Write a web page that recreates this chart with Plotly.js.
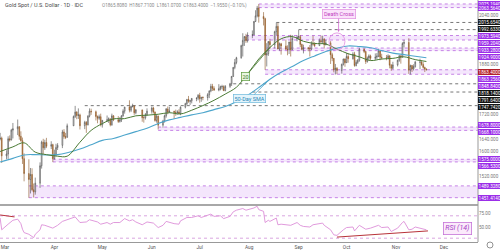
<!DOCTYPE html>
<html><head><meta charset="utf-8">
<script src="https://cdn.plot.ly/plotly-3.0.1.min.js"></script>
<style>html,body{margin:0;padding:0;background:#fff}#chart{width:500px;height:250px}</style>
</head><body><div id="chart"></div>
<script>
// ---- daily candles (XAU/USD) ----
const dates = [
'2020-02-27','2020-02-28',
'2020-03-02','2020-03-03','2020-03-04','2020-03-05','2020-03-06','2020-03-09','2020-03-10','2020-03-11','2020-03-12','2020-03-13','2020-03-16','2020-03-17','2020-03-18','2020-03-19','2020-03-20','2020-03-23','2020-03-24','2020-03-25','2020-03-26','2020-03-27','2020-03-30','2020-03-31',
'2020-04-01','2020-04-02','2020-04-03','2020-04-06','2020-04-07','2020-04-08','2020-04-09','2020-04-13','2020-04-14','2020-04-15','2020-04-16','2020-04-17','2020-04-20','2020-04-21','2020-04-22','2020-04-23','2020-04-24','2020-04-27','2020-04-28','2020-04-29','2020-04-30',
'2020-05-01','2020-05-04','2020-05-05','2020-05-06','2020-05-07','2020-05-08','2020-05-11','2020-05-12','2020-05-13','2020-05-14','2020-05-15','2020-05-18','2020-05-19','2020-05-20','2020-05-21','2020-05-22','2020-05-26','2020-05-27','2020-05-28','2020-05-29',
'2020-06-01','2020-06-02','2020-06-03','2020-06-04','2020-06-05','2020-06-08','2020-06-09','2020-06-10','2020-06-11','2020-06-12','2020-06-15','2020-06-16','2020-06-17','2020-06-18','2020-06-19','2020-06-22','2020-06-23','2020-06-24','2020-06-25','2020-06-26','2020-06-29','2020-06-30',
'2020-07-01','2020-07-02','2020-07-03','2020-07-06','2020-07-07','2020-07-08','2020-07-09','2020-07-10','2020-07-13','2020-07-14','2020-07-15','2020-07-16','2020-07-17','2020-07-20','2020-07-21','2020-07-22','2020-07-23','2020-07-24','2020-07-27','2020-07-28','2020-07-29','2020-07-30','2020-07-31',
'2020-08-03','2020-08-04','2020-08-05','2020-08-06','2020-08-07','2020-08-10','2020-08-11','2020-08-12','2020-08-13','2020-08-14','2020-08-17','2020-08-18','2020-08-19','2020-08-20','2020-08-21','2020-08-24','2020-08-25','2020-08-26','2020-08-27','2020-08-28','2020-08-31',
'2020-09-01','2020-09-02','2020-09-03','2020-09-04','2020-09-07','2020-09-08','2020-09-09','2020-09-10','2020-09-11','2020-09-14','2020-09-15','2020-09-16','2020-09-17','2020-09-18','2020-09-21','2020-09-22','2020-09-23','2020-09-24','2020-09-25','2020-09-28','2020-09-29','2020-09-30',
'2020-10-01','2020-10-02','2020-10-05','2020-10-06','2020-10-07','2020-10-08','2020-10-09','2020-10-12','2020-10-13','2020-10-14','2020-10-15','2020-10-16','2020-10-19','2020-10-20','2020-10-21','2020-10-22','2020-10-23','2020-10-26','2020-10-27','2020-10-28','2020-10-29','2020-10-30',
'2020-11-02','2020-11-03','2020-11-04','2020-11-05','2020-11-06','2020-11-09','2020-11-10','2020-11-11','2020-11-12','2020-11-13','2020-11-16','2020-11-17','2020-11-18','2020-11-19','2020-11-20'];
const open = [1641,1643,
1586,1592,1641,1637,1669,1673,1680,1649,1635,1577,1529,1510,1526,1477,1470,1498,1554,1630,1612,1629,1617,1622,
1577,1591,1613,1620,1663,1648,1646,1683,1713,1727,1716,1718,1683,1694,1686,1714,1730,1728,1713,1707,1712,
1686,1700,1702,1705,1686,1715,1702,1697,1702,1715,1730,1743,1733,1745,1747,1725,1734,1709,1709,1719,
1730,1740,1727,1700,1714,1685,1698,1715,1737,1727,1730,1726,1726,1727,1722,1743,1754,1768,1762,1763,1771,1772,
1781,1770,1775,1774,1783,1795,1810,1803,1798,1802,1809,1809,1796,1810,1818,1842,1871,1887,1902,1941,1958,1970,1957,
1975,1976,2019,2037,2062,2035,2028,1911,1915,1954,1944,1986,2003,1930,1947,1940,1929,1928,1953,1928,1964,
1968,1970,1945,1929,1934,1932,1930,1947,1946,1941,1957,1954,1962,1944,1950,1912,1900,1863,1868,1861,1881,1898,
1886,1906,1899,1914,1877,1887,1894,1930,1922,1890,1901,1908,1900,1904,1907,1924,1904,1902,1901,1908,1878,1868,
1879,1894,1908,1904,1948,1951,1862,1877,1866,1874,1888,1888,1880,1871,1865.81];
const high = [1660,1648,
1604,1649,1652,1673,1692,1703,1681,1665,1645,1594,1575,1547,1546,1497,1516,1565,1635,1641,1638,1644,1633,1625,
1606,1625,1627,1670,1672,1660,1690,1716,1747,1730,1739,1722,1699,1698,1717,1739,1738,1732,1716,1719,1722,
1702,1716,1710,1707,1722,1717,1714,1711,1717,1736,1744,1765,1748,1754,1748,1737,1735,1717,1724,1739,
1745,1744,1729,1718,1716,1702,1719,1740,1745,1744,1731,1735,1733,1736,1745,1757,1768,1779,1766,1772,1774,1785,
1789,1775,1777,1788,1797,1818,1818,1810,1817,1812,1815,1813,1814,1821,1843,1872,1898,1905,1944,1981,1972,1979,1984,
1990,2020,2055,2069,2075,2049,2031,1949,1956,1963,1989,2015,2014,1951,1950,1960,1942,1953,1976,1975,1974,
1992,1975,1947,1944,1937,1943,1955,1973,1952,1964,1973,1973,1965,1960,1956,1918,1901,1882,1872,1883,1899,1900,
1917,1917,1920,1921,1894,1898,1933,1932,1923,1906,1913,1912,1916,1917,1931,1925,1915,1911,1913,1910,1882,1889,
1896,1911,1911,1952,1960,1965,1880,1879,1881,1892,1899,1894,1888,1873,1867.71];
const low = [1636,1563,
1575,1576,1632,1636,1642,1653,1638,1632,1560,1504,1451,1465,1472,1452,1461,1483,1545,1592,1605,1611,1608,1566,
1574,1585,1605,1611,1641,1640,1644,1682,1708,1704,1705,1671,1672,1660,1684,1710,1718,1700,1691,1702,1681,
1677,1695,1692,1681,1683,1698,1692,1693,1695,1712,1722,1726,1727,1742,1718,1720,1696,1693,1703,1715,
1722,1722,1696,1693,1671,1677,1693,1709,1720,1725,1705,1715,1719,1721,1717,1739,1750,1757,1750,1755,1762,1765,
1757,1760,1765,1764,1772,1791,1795,1795,1794,1797,1800,1796,1794,1805,1811,1840,1865,1881,1899,1906,1940,1950,1951,
1965,1975,2017,2032,2015,2006,1863,1874,1908,1931,1932,1975,1930,1925,1912,1928,1910,1914,1906,1927,1955,
1960,1936,1926,1916,1923,1906,1927,1941,1936,1940,1949,1947,1932,1942,1882,1891,1855,1848,1849,1851,1877,1873,
1885,1886,1896,1873,1874,1882,1889,1917,1882,1886,1894,1893,1895,1897,1904,1894,1896,1894,1897,1868,1860,1865,
1874,1889,1883,1903,1935,1850,1848,1856,1861,1870,1865,1876,1867,1856,1861.07];
const close = [1643,1586,
1592,1641,1637,1669,1673,1680,1649,1635,1577,1529,1510,1526,1477,1470,1498,1554,1630,1612,1629,1617,1622,1577,
1591,1613,1620,1663,1648,1646,1683,1713,1727,1716,1718,1683,1694,1686,1714,1730,1728,1713,1707,1712,1686,
1700,1702,1705,1686,1715,1702,1697,1702,1715,1730,1743,1733,1745,1747,1725,1734,1709,1709,1719,1730,
1740,1727,1700,1714,1685,1698,1715,1737,1727,1730,1726,1726,1727,1722,1743,1754,1768,1762,1763,1771,1772,1781,
1770,1775,1774,1783,1795,1810,1803,1798,1802,1809,1809,1796,1810,1818,1842,1871,1887,1902,1941,1958,1970,1957,1975,
1976,2019,2037,2062,2035,2028,1911,1915,1954,1944,1986,2003,1930,1947,1940,1929,1928,1953,1928,1964,1968,
1970,1945,1929,1934,1932,1930,1947,1946,1941,1957,1954,1962,1944,1950,1912,1900,1863,1868,1861,1881,1898,1886,
1906,1899,1914,1877,1887,1894,1930,1922,1890,1901,1908,1900,1904,1907,1924,1904,1902,1901,1908,1878,1868,1879,
1894,1908,1904,1948,1951,1862,1877,1866,1874,1888,1888,1880,1871,1865.36,1863.40];

// ---- moving averages (read weekly) ----
const smaDates = ['2020-02-27','2020-03-06','2020-03-13','2020-03-20','2020-03-27','2020-04-03','2020-04-09','2020-04-17','2020-04-24','2020-05-01','2020-05-08','2020-05-15','2020-05-22','2020-05-29','2020-06-05','2020-06-12','2020-06-19','2020-06-26','2020-07-03','2020-07-10','2020-07-17','2020-07-24','2020-07-31','2020-08-07','2020-08-14','2020-08-21','2020-08-28','2020-09-04','2020-09-11','2020-09-18','2020-09-25','2020-10-02','2020-10-09','2020-10-16','2020-10-23','2020-10-30','2020-11-06','2020-11-13','2020-11-20'];
const sma20 = [1600,1615,1628,1598,1590,1585,1585,1630,1668,1690,1705,1706,1715,1717,1720,1725,1721,1733,1748,1765,1785,1807,1850,1898,1935,1963,1970,1955,1948,1946,1930,1915,1905,1893,1898,1900,1905,1896,1890];
const sma50 = [1566,1578,1589,1590,1589,1590,1596,1608,1622,1636,1642,1653,1664,1675,1690,1702,1710,1718,1725,1735,1745,1760,1781,1806,1833,1855,1874,1893,1908,1922,1933,1940,1938,1934,1925,1917,1912,1907,1902];

// ---- RSI(14) ----
const rsiDates = ['2020-02-27','2020-02-28','2020-03-03','2020-03-06','2020-03-09','2020-03-11','2020-03-12','2020-03-13','2020-03-16','2020-03-18','2020-03-19','2020-03-20','2020-03-23','2020-03-24','2020-03-26','2020-03-31','2020-04-03','2020-04-06','2020-04-09','2020-04-14','2020-04-17','2020-04-21','2020-04-23','2020-04-28','2020-04-30','2020-05-04','2020-05-06','2020-05-08','2020-05-12','2020-05-15','2020-05-18','2020-05-20','2020-05-22','2020-05-26','2020-05-29','2020-06-02','2020-06-05','2020-06-08','2020-06-10','2020-06-15','2020-06-18','2020-06-19','2020-06-23','2020-06-26','2020-06-30','2020-07-02','2020-07-08','2020-07-10','2020-07-14','2020-07-16','2020-07-20','2020-07-22','2020-07-24','2020-07-28','2020-07-30','2020-08-04','2020-08-06','2020-08-07','2020-08-10','2020-08-11','2020-08-13','2020-08-14','2020-08-18','2020-08-19','2020-08-21','2020-08-25','2020-08-27','2020-08-31','2020-09-02','2020-09-04','2020-09-08','2020-09-10','2020-09-14','2020-09-16','2020-09-17','2020-09-21','2020-09-23','2020-09-25','2020-09-29','2020-10-01','2020-10-05','2020-10-06','2020-10-09','2020-10-13','2020-10-16','2020-10-21','2020-10-23','2020-10-27','2020-10-29','2020-11-02','2020-11-05','2020-11-06','2020-11-09','2020-11-11','2020-11-13','2020-11-17','2020-11-20'];
const rsiVals = [66,45,55,62,64,56,46,40,37,33,31,37,45,54,53,48,53,60,63,68,58,59,63,59,55,58,55,58,58,65,61,63,59,54,59,57,49,53,60,56,55,61,67,67,70,67,73,69,70,65,69,77,80,83,80,84,87,81,78,58,62,60,66,54,55,53,53,58,53,51,50,54,56,57,53,45,36,35,45,49,50,43,53,46,48,53,49,50,42,48,58,60,45,46,50,47,45];
const rsiTrendA_x = ['2020-02-27','2020-03-07'], rsiTrendA_y = [71.5,68];
const rsiTrendB_x = ['2020-09-25','2020-11-21'], rsiTrendB_y = [32,43];
const rsiLevels = [70,30];

// ---- price levels ----
const bandTop   = [2075.194,1973.594,1933.28,1863.256,1678.80,1575.00,1489.328];
const bandBot   = [2063.564,1959.204,1924.90,1848.84,1668.10,1566.53,1451.414];
const bandStart = ['2020-08-07','2020-07-30','2020-08-12','2020-08-11','2020-06-05','2020-03-31','2020-03-16'];
const linePrice = [2015.654,1992.633,1818.14,1791.64,1747.742];
const lineStart = ['2020-08-18','2020-09-01','2020-07-22','2020-08-03','2020-04-20'];
const labelPrices = [2075.194,2063.564,2015.654,1992.633,1973.594,1959.204,1933.28,1924.90,1863.40,1863.256,1848.84,1818.14,1791.64,1747.742,1678.80,1668.10,1575.00,1566.53,1489.328,1451.414];
const labelTexts  = ['2075.1940','2063.5640','2015.6540','1992.6330','1973.5940','1959.2040','1933.2800','1924.9000','1863.4000','1863.2560','1848.8400','1818.1400','1791.6400','1747.7420','1678.8000','1668.1000','1575.0000','1566.5300','1489.3280','1451.4140'];
const labelKinds  = ['p','p','k','k','p','p','p','p','r','p','p','k','k','k','p','p','p','p','p','p'];
const priceTicks = [2040,1880,1720,1640,1600,1520];
const rsiTicks = [50,75], rsiTickText = ['50.00','75.00'];
const monthTicks = ['2020-03-01','2020-04-01','2020-05-01','2020-06-01','2020-07-01','2020-08-01','2020-09-01','2020-10-01','2020-11-01','2020-12-01'];
const monthText = ['Mar','Apr','May','Jun','Jul','Aug','Sep','Oct','Nov','Dec'];

// ---- layout geometry ----
const W=500,Hh=250, mR=22, mB=8;
const plotH = Hh-mB;             // 242
const mainPx = 204;
const mainDom = [1-mainPx/plotH, 1];
const rsiDom = [0, (plotH-206)/plotH];
const yMin=1431, yMax=2088;
const xRange = ['2020-02-26 22:00','2020-12-22 08:00'];
const FONT = 'Roboto, "DejaVu Sans", sans-serif';

const traces = [
 {type:'candlestick', x:dates, open:open, high:high, low:low, close:close, xaxis:'x', yaxis:'y',
  increasing:{line:{color:'#4a4a4a',width:0.6}, fillcolor:'#ffffff'},
  decreasing:{line:{color:'#8a5527',width:0.6}, fillcolor:'#c9843f'},
  whiskerwidth:0, showlegend:false, hoverinfo:'skip'},
 {type:'scatter', mode:'lines', x:smaDates, y:sma50, line:{color:'#4ea6cc',width:1.1,shape:'spline'}, yaxis:'y', showlegend:false, hoverinfo:'skip'},
 {type:'scatter', mode:'lines', x:smaDates, y:sma20, line:{color:'#4a7a34',width:1,shape:'spline'}, yaxis:'y', showlegend:false, hoverinfo:'skip'},
 {type:'scatter', mode:'lines', x:rsiDates, y:rsiVals, line:{color:'#dc8fd8',width:0.9}, yaxis:'y2', showlegend:false, hoverinfo:'skip'},
 {type:'scatter', mode:'lines', x:rsiTrendA_x, y:rsiTrendA_y, line:{color:'#b8333a',width:1}, yaxis:'y2', showlegend:false, hoverinfo:'skip'},
 {type:'scatter', mode:'lines', x:rsiTrendB_x, y:rsiTrendB_y, line:{color:'#b8333a',width:1}, yaxis:'y2', showlegend:false, hoverinfo:'skip'}
];

const shapes = [];
bandTop.forEach((t,i)=>{
  shapes.push({type:'rect', xref:'x', yref:'y', x0:bandStart[i], x1:xRange[1], y0:bandBot[i], y1:t, fillcolor:'rgba(215,165,245,0.28)', line:{width:0}, layer:'below'});
  [t,bandBot[i]].forEach(v=>shapes.push({type:'line', xref:'x', yref:'y', x0:bandStart[i], x1:xRange[1], y0:v, y1:v, line:{color:'#c683e6',width:1,dash:'dot'}, layer:'below'}));
});
linePrice.forEach((v,i)=>shapes.push({type:'line', xref:'x', yref:'y', x0:lineStart[i], x1:xRange[1], y0:v, y1:v, line:{color:'#777',width:1,dash:'dot'}, layer:'below'}));
rsiLevels.forEach(v=>shapes.push({type:'line', xref:'paper', yref:'y2', x0:0, x1:1, y0:v, y1:v, line:{color:'#d9a6e0',width:1,dash:'dot'}, layer:'below'}));
shapes.push({type:'line', xref:'paper', yref:'paper', x0:0, x1:1, y0:(plotH-205)/plotH, y1:(plotH-205)/plotH, line:{color:'#a8a8a8',width:2}});
shapes.push({type:'line', xref:'paper', yref:'paper', x0:1, x1:1, y0:0, y1:1, line:{color:'#999',width:1}});
shapes.push({type:'circle', xref:'x', yref:'y', x0:'2020-09-20', x1:'2020-09-30', y0:1927, y1:1982, line:{color:'#e49ae4',width:0.9}, fillcolor:'rgba(240,180,240,0.12)'});
shapes.push({type:'circle', xref:'paper', yref:'paper', x0:487/478, x1:493/478, y0:-6/plotH, y1:0, line:{color:'#777',width:0.8}});

// ---- right axis labels: relax overlaps, axis tick labels act as fixed obstacles ----
const py = p => (yMax-p)/(yMax-yMin)*mainPx;
let items = labelPrices.map((p,i)=>({p:p, t:labelTexts[i], k:labelKinds[i], y:py(p), fixed:false}))
  .concat(priceTicks.map(p=>({p:p, y:py(p), fixed:true})));
items.sort((a,b)=>a.y-b.y);
const lh = 7.0;
for(let it=0; it<400; it++){
  for(let i=0;i<items.length-1;i++){
    const a=items[i], b=items[i+1], g=b.y-a.y;
    if(g<lh){
      const d=lh-g;
      if(a.fixed && !b.fixed) b.y+=d;
      else if(b.fixed && !a.fixed) a.y-=d;
      else if(!a.fixed && !b.fixed){a.y-=d/2; b.y+=d/2;}
    }
  }
  if(!items[0].fixed && items[0].y<lh/2) items[0].y=lh/2;
  items.sort((a,b)=>a.y-b.y);
}
const kindBg = {p:'#9b2ee8', k:'#141414', r:'#b3202a'};
const annotations = items.filter(it=>!it.fixed).map(it=>({xref:'paper', x:1, xanchor:'left', yref:'y', y:it.p, yanchor:'middle',
  yshift:-(it.y-py(it.p)), text:it.t, showarrow:false, font:{family:FONT,size:4.6,color:'#fff'},
  bgcolor:kindBg[it.k], borderpad:0.6, borderwidth:0}));

const iSma = smaDates.indexOf('2020-08-14');
annotations.push(
 {xref:'paper', yref:'paper', x:0, y:1, xanchor:'left', yanchor:'middle', xshift:3, yshift:-5, showarrow:false,
  text:'Gold Spot / U.S. Dollar · 1D · IDC', font:{family:FONT,size:5.5,color:'#4a4a4a'}},
 {xref:'paper', yref:'paper', x:100/478, y:1, xanchor:'left', yanchor:'middle', yshift:-5, showarrow:false,
  text:'O1865.8080  H1867.7100  L1861.0700  C1863.4000  −1.9550 (−0.10%)', font:{family:FONT,size:4.6,color:'#888'}},
 {xref:'x', yref:'y', x:'2020-09-26', y:1985, ax:0, ay:-18, showarrow:true, arrowhead:2, arrowsize:0.7, arrowwidth:0.8, arrowcolor:'#d36fd3',
  text:'Death Cross', font:{family:FONT,size:5.5,color:'#bf3fbf'}, bgcolor:'#fbe2fb', bordercolor:'#e08fe0', borderwidth:0.7, borderpad:1.2},
 {xref:'x', yref:'y', x:smaDates[iSma], y:sma20[iSma], ax:-24, ay:28.5, showarrow:true, arrowhead:0, arrowwidth:0.8, arrowcolor:'#4a7a34',
  text:'20', font:{family:FONT,size:5.5,color:'#3d7a2a'}, bgcolor:'#e9f6e2', bordercolor:'#5c9a3e', borderwidth:0.7, borderpad:0.8},
 {xref:'x', yref:'y', x:smaDates[iSma], y:sma50[iSma], ax:-20, ay:19.5, showarrow:true, arrowhead:0, arrowwidth:0.8, arrowcolor:'#4ea6cc',
  text:'50-Day SMA', font:{family:FONT,size:5.5,color:'#2b88b8'}, bgcolor:'#e4f4fb', bordercolor:'#6cb8dc', borderwidth:0.7, borderpad:0.8},
 {xref:'paper', yref:'paper', x:457.5/478, y:(plotH-228)/plotH, xanchor:'center', yanchor:'middle', showarrow:false,
  text:'<i>RSI (14)</i>', font:{family:FONT,size:7,color:'#a43fc4'}, bgcolor:'#fbeafb', bordercolor:'#c573d8', borderwidth:0.8, borderpad:1.5}
);

const layout = {
  width:W, height:Hh, margin:{l:0,r:mR,t:0,b:mB,pad:0},
  paper_bgcolor:'#fff', plot_bgcolor:'#fff', showlegend:false,
  font:{family:FONT,color:'#666'},
  xaxis:{type:'date', range:xRange, anchor:'y2', rangeslider:{visible:false}, showgrid:false, zeroline:false,
    showline:true, linecolor:'#999', linewidth:1, tickvals:monthTicks, ticktext:monthText, ticks:'',
    tickfont:{family:FONT,size:4.8,color:'#555'}, automargin:false, fixedrange:true},
  yaxis:{domain:mainDom, range:[yMin,yMax], side:'right', showgrid:false, zeroline:false, tickvals:priceTicks,
    tickformat:'.3f', ticks:'', tickfont:{family:FONT,size:4.6,color:'#777'}, automargin:false, fixedrange:true},
  yaxis2:{domain:rsiDom, range:[23.2,87.5], side:'right', showgrid:false, zeroline:false, tickvals:rsiTicks, ticktext:rsiTickText,
    ticks:'', tickfont:{family:FONT,size:4.6,color:'#777'}, automargin:false, fixedrange:true},
  shapes:shapes, annotations:annotations
};
Plotly.newPlot('chart', traces, layout, {staticPlot:true, displayModeBar:false});
</script></body></html>
